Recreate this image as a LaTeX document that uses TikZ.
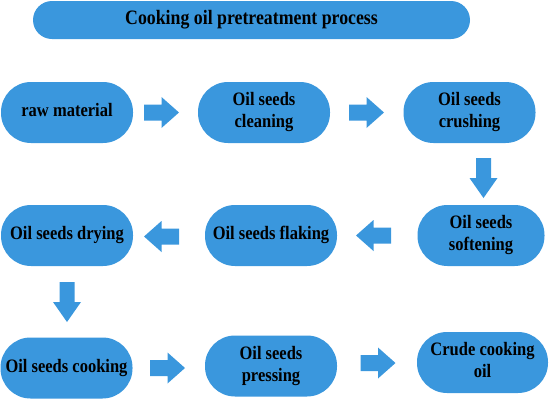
\documentclass[tikz,border=0pt]{standalone}
\usepackage{fontspec}
\usepackage{graphicx}
\setmainfont{Liberation Serif}
\definecolor{boxblue}{RGB}{58,151,221}
\newcommand{\tx}[1]{\scalebox{1}[1.15]{\begin{tabular}{@{}c@{}}#1\end{tabular}}}
\tikzset{
  stadium/.style={fill=boxblue, rounded corners=30pt, minimum width=132pt, minimum height=61pt,
    inner sep=0pt, align=center, text=black, font=\fontsize{16.5}{18.9}\selectfont\bfseries},
  harrow/.pic={\fill[boxblue] (-17.5,-8) -- (0,-8) -- (0,-15.5) -- (17.5,0) -- (0,15.5) -- (0,8) -- (-17.5,8) -- cycle;},
  varrow/.pic={\fill[boxblue] (-7.5,-20) -- (7.5,-20) -- (7.5,0) -- (14,0) -- (0,20) -- (-14,0) -- (-7.5,0) -- cycle;}
}
\begin{document}
\begin{tikzpicture}[x=1pt,y=-1pt]
\useasboundingbox (0,0) rectangle (550,400);
\node[stadium, minimum width=437pt, minimum height=38pt, rounded corners=19pt,
  font=\fontsize{17.8}{21}\selectfont\bfseries] (title) at (251.5,20) {\tx{Cooking oil pretreatment process}};
\node[stadium] (raw) at (67,112.5) {\tx{raw material}};
\node[stadium] (clean) at (264,112.5) {\tx{Oil seeds\\cleaning}};
\node[stadium] (crush) at (469.5,112.5) {\tx{Oil seeds\\crushing}};
\node[stadium, minimum width=127pt] (soft) at (481,235.5) {\tx{Oil seeds\\softening}};
\node[stadium] (flak) at (271,235.5) {\tx{Oil seeds flaking}};
\node[stadium] (dry) at (67,235.5) {\tx{Oil seeds drying}};
\node[stadium] (cook) at (66.5,368) {\tx{Oil seeds cooking}};
\node[stadium] (press) at (271,366) {\tx{Oil seeds\\pressing}};
\node[stadium, minimum width=131pt] (crude) at (482.5,362.5) {\tx{Crude cooking\\oil}};
\pic at (161.5,112.5) {harrow};
\pic at (366.5,112.5) {harrow};
\pic at (483.5,178) {varrow};
\pic[rotate=180] at (373.5,235.5) {harrow};
\pic[rotate=180] at (161.5,236.5) {harrow};
\pic at (67,302) {varrow};
\pic at (167.5,368) {harrow};
\pic at (378,363) {harrow};
\end{tikzpicture}
\end{document}
